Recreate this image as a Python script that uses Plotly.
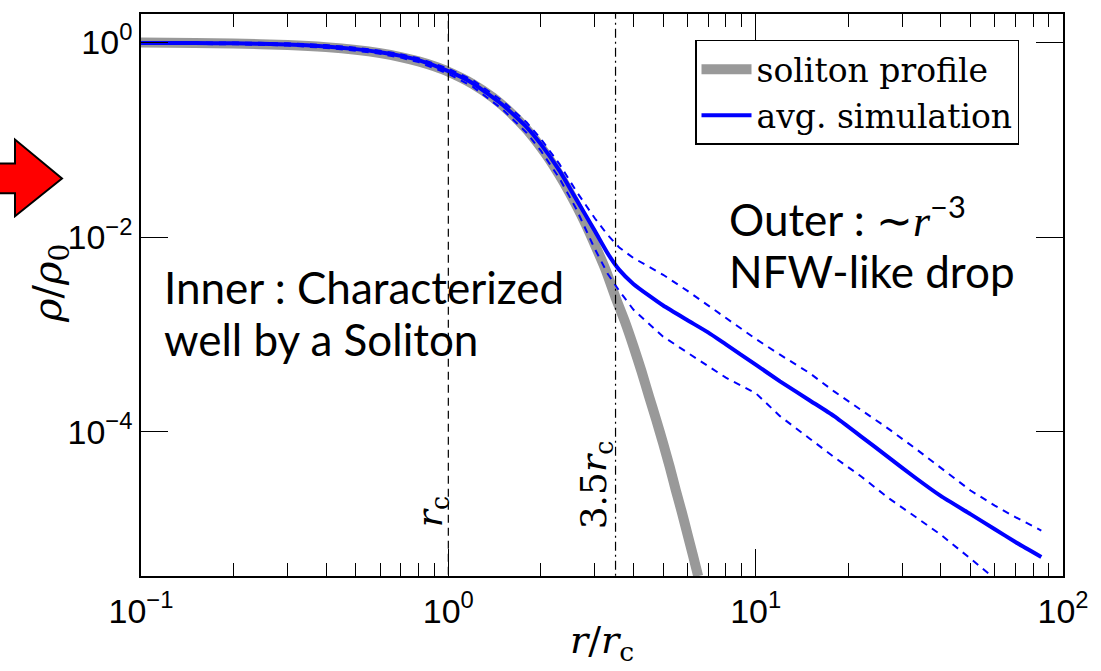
import plotly.graph_objects as go

# ---------------- data ----------------
r_sol = [0.1, 0.15, 0.2, 0.3, 0.4, 0.5, 0.6, 0.7, 0.8, 0.9, 1.0, 1.2, 1.4, 1.6,
         1.8, 2.0, 2.15, 2.3, 2.45, 2.6, 2.8, 3.0, 3.25, 3.5, 3.75, 4.0, 4.25, 4.5,
         4.75, 5.0, 5.25, 5.5, 5.75, 6.0, 6.25, 6.5]
rho_sol = [0.993, 0.984, 0.971, 0.937, 0.891, 0.835, 0.773, 0.705, 0.636, 0.566,
           0.498, 0.373, 0.269, 0.187, 0.127, 0.0835, 0.0605, 0.0431, 0.0306, 0.0216,
           0.0135, 0.0083, 0.0046, 0.0024, 1.37e-3, 7.6e-4, 4.2e-4, 2.3e-4,
           1.32e-4, 7.6e-5, 4.4e-5, 2.5e-5, 1.5e-5, 8.9e-6, 5.4e-6, 3.3e-6]

r_sim = [0.1, 0.15, 0.2, 0.3, 0.4, 0.5, 0.6, 0.7, 0.8, 1.0, 1.2, 1.5, 1.8, 2.0,
         2.3, 2.6, 3.0, 3.3, 3.6, 4.0, 4.5, 5.0, 6.0, 7.0, 8.0, 10, 12, 15, 18,
         22, 27, 33, 40, 50, 60, 70, 85]
rho_avg = [0.98, 0.98, 0.975, 0.95, 0.905, 0.85, 0.79, 0.725, 0.655, 0.505, 0.38,
           0.228, 0.134, 0.09, 0.048, 0.0248, 0.0115, 0.0068, 0.0046, 0.0033,
           0.0025, 0.00198, 0.0014, 0.00105, 7.9e-4, 4.9e-4, 3.3e-4, 2.1e-4,
           1.45e-4, 9.0e-5, 5.5e-5, 3.4e-5, 2.2e-5, 1.43e-5, 1.0e-5, 7.4e-6, 5.2e-6]
rho_upper = [1.0, 1.0, 0.995, 0.975, 0.935, 0.88, 0.82, 0.755, 0.685, 0.535, 0.41,
             0.25, 0.15, 0.102, 0.056, 0.030, 0.0155, 0.0105, 0.0078, 0.0061,
             0.0049, 0.0041, 0.0028, 0.0020, 0.00148, 9.0e-4, 6.2e-4, 4.0e-4,
             2.6e-4, 1.7e-4, 1.08e-4, 6.8e-5, 4.3e-5, 2.5e-5, 1.75e-5, 1.33e-5, 9.7e-6]
rho_lower = [0.96, 0.96, 0.955, 0.925, 0.875, 0.82, 0.76, 0.695, 0.625, 0.475, 0.35,
             0.205, 0.117, 0.077, 0.04, 0.0198, 0.0075, 0.0042, 0.0028, 0.0018,
             0.00128, 9.5e-4, 6.5e-4, 4.7e-4, 3.6e-4, 2.5e-4, 1.45e-4, 8.5e-5,
             5.5e-5, 3.5e-5, 2.1e-5, 1.35e-5, 8.8e-6, 5.0e-6, 3.1e-6, 2.2e-6, 1.4e-6]

r_core = 1.0
r_trans = 3.5
y_span = [1e-6, 10]

x_tickvals = [0.1, 1, 10, 100]
x_ticktext = ["10<sup>−1</sup>", "10<sup>0</sup>", "10<sup>1</sup>", "10<sup>2</sup>"]
y_tickvals = [1, 1e-2, 1e-4]
y_ticktext = ["10<sup>0</sup>", "10<sup>−2</sup>", "10<sup>−4</sup>"]
x_minor = [k * d for d in (0.1, 1, 10) for k in range(2, 10)]

# ---------------- figure ----------------
W, H = 1101, 671
ML, MR, MT, MB = 141, 38, 12, 95
PW, PH = W - ML - MR, H - MT - MB


def px(x):
    return (x - ML) / PW


def py(y):
    return (H - MB - y) / PH


SERIF = "DejaVu Serif"
SANS = "Liberation Sans"
TEXTF = "Lato"

fig = go.Figure()

fig.add_trace(go.Scatter(x=r_sol, y=rho_sol, mode="lines", name="soliton profile",
                         line=dict(color="#999999", width=10, shape="spline", smoothing=0.6)))
fig.add_trace(go.Scatter(x=r_sim, y=rho_upper, mode="lines", showlegend=False,
                         line=dict(color="#0000ff", width=2, dash="7px,6px")))
fig.add_trace(go.Scatter(x=r_sim, y=rho_lower, mode="lines", showlegend=False,
                         line=dict(color="#0000ff", width=2, dash="7px,6px")))
fig.add_trace(go.Scatter(x=r_sim, y=rho_avg, mode="lines", name="avg. simulation",
                         line=dict(color="#0000ff", width=4, shape="spline", smoothing=0.5)))
fig.add_trace(go.Scatter(x=[r_core, r_core], y=y_span, mode="lines", showlegend=False,
                         line=dict(color="black", width=1.2, dash="8px,5px")))
fig.add_trace(go.Scatter(x=[r_trans, r_trans], y=y_span, mode="lines", showlegend=False,
                         line=dict(color="black", width=1.2, dash="9px,4px,2px,4px")))

axis_common = dict(showline=True, linecolor="black", linewidth=1.5, mirror="ticks",
                   ticks="inside", ticklen=27, tickwidth=1.2, tickcolor="black",
                   showgrid=False, zeroline=False,
                   tickfont=dict(family=SANS, size=34, color="black"))

fig.update_xaxes(type="log", range=[-1, 2], tickvals=x_tickvals, ticktext=x_ticktext,
                 ticklabelstandoff=4,
                 minor=dict(ticks="inside", ticklen=13, tickwidth=1.2, tickcolor="black",
                            tickvals=x_minor, showgrid=False),
                 **axis_common)
fig.update_yaxes(type="log", range=[-5.48, 0.29], tickvals=y_tickvals, ticktext=y_ticktext,
                 **axis_common)

annotations = [
    dict(text="Inner : Characterized", x=px(162), y=py(286),
         xanchor="left", yanchor="middle", font=dict(family=TEXTF, size=44, color="black")),
    dict(text="well by a Soliton", x=px(162), y=py(338),
         xanchor="left", yanchor="middle", font=dict(family=TEXTF, size=44, color="black")),
    dict(text="Outer : <span style=\"font-family:Liberation Serif\">∼<i>r</i></span>"
              "<sup>−3</sup>",
         x=px(727), y=py(216), xanchor="left", yanchor="middle",
         font=dict(family=TEXTF, size=44, color="black")),
    dict(text="NFW-like drop", x=px(727), y=py(270), xanchor="left", yanchor="middle",
         font=dict(family=TEXTF, size=44, color="black")),
    dict(text="<i>r</i><sub>c</sub>", x=px(432), y=py(512), textangle=-90,
         xanchor="center", yanchor="middle", font=dict(family=SERIF, size=36, color="black")),
    dict(text="3.5<i>r</i><sub>c</sub>", x=px(596), y=py(485), textangle=-90,
         xanchor="center", yanchor="middle", font=dict(family=SERIF, size=36, color="black")),
    dict(text="<i>ρ</i>/<i>ρ</i><sub>0</sub>", x=px(50), y=py(283), textangle=-90,
         xanchor="center", yanchor="middle", font=dict(family=SERIF, size=40, color="black")),
    dict(text="<i>r</i>/<i>r</i><sub>c</sub>", x=px(602), y=py(643),
         xanchor="center", yanchor="middle", font=dict(family=SERIF, size=38, color="black")),
]
for a in annotations:
    a.update(xref="paper", yref="paper", showarrow=False)

arrow = [(-5, 162), (15, 162), (15, 138), (62, 177), (15, 215), (15, 192), (-5, 192)]
path = "M " + " L ".join(f"{px(x):.5f},{py(y):.5f}" for x, y in arrow) + " Z"

fig.update_layout(
    width=W, height=H,
    margin=dict(l=ML, r=MR, t=MT, b=MB, pad=0),
    paper_bgcolor="white", plot_bgcolor="white",
    showlegend=True,
    legend=dict(x=px(695), y=py(38), xanchor="left", yanchor="top",
                bgcolor="white", bordercolor="black", borderwidth=1.5,
                font=dict(family="DejaVu Serif", size=33, color="black"),
                itemwidth=50, tracegroupgap=0),
    annotations=annotations,
    shapes=[dict(type="path", path=path, xref="paper", yref="paper",
                 fillcolor="#ff0000", line=dict(color="black", width=2), layer="above")],
    hovermode=False,
)

fig.write_html("out.html", config={"displayModeBar": False})
